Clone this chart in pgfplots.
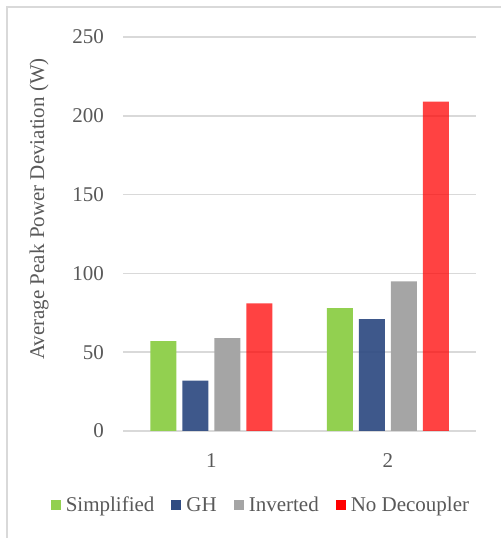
\documentclass[border=0pt]{standalone}
\usepackage{fontspec}
\setmainfont{Liberation Serif}
\usepackage{pgfplots}
\pgfplotsset{compat=1.18}

\definecolor{txtgray}{HTML}{595959}
\definecolor{gridgray}{HTML}{D9D9D9}
\definecolor{framegray}{HTML}{D9D9D9}
\definecolor{cSimp}{HTML}{92D050}
\definecolor{cGH}{HTML}{2F4B82}
\definecolor{cInv}{HTML}{A5A5A5}
\definecolor{cNoDec}{HTML}{FF0000}

\begin{document}
\begin{tikzpicture}[x=1pt,y=1pt]
  \path[use as bounding box] (0,0) rectangle (501,538);
  % chart frame (left and top edges)
  \draw[framegray, line width=1.3pt] (7,0) -- (7,531) -- (501,531);

  \begin{axis}[
    at={(123pt,107pt)}, anchor=south west,
    scale only axis, width=353pt, height=394pt,
    font=\fontsize{21}{25}\selectfont,
    /pgf/number format/assume math mode=true,
    ybar=6pt, bar width=26pt,
    xmin=0.5, xmax=2.5, ymin=0, ymax=250,
    xtick={1,2}, xticklabels={1,2},
    ytick={0,50,100,150,200,250},
    axis line style={draw=none},
    major tick length=0pt,
    ymajorgrids, grid style={gridgray, line width=1.5pt},
    tick label style={text=txtgray, inner sep=0pt},
    yticklabel style={anchor=east, xshift=-19pt},
    xticklabel style={anchor=north, yshift=-22pt},
    legend columns=4,
    legend style={
      at={(0.388,-0.188)}, anchor=center,
      draw=none, fill=none, text=txtgray,
      font=\fontsize{21}{25}\selectfont,
      inner sep=0pt,
      nodes={inner sep=0pt},
      /tikz/every even column/.append style={column sep=17pt},
    },
    legend image code/.code={
      \fill[#1, fill opacity=1] (0pt,-5pt) rectangle (10pt,5pt);
      \path (15pt,0pt);
    },
  ]
    \addplot[draw=none, fill=cSimp] coordinates {(1,57) (2,78)};
    \addlegendentry{Simplified}
    \addplot[draw=none, fill=cGH, fill opacity=0.93] coordinates {(1,32) (2,71)};
    \addlegendentry{GH}
    \addplot[draw=none, fill=cInv] coordinates {(1,59) (2,95)};
    \addlegendentry{Inverted}
    \addplot[draw=none, fill=cNoDec, fill opacity=0.74] coordinates {(1,81) (2,209)};
    \addlegendentry{No Decoupler}
  \end{axis}

  \node[rotate=90, text=txtgray, font=\fontsize{21}{25}\selectfont, inner sep=0pt]
    at (39,329) {Average Peak Power Deviation (W)};
\end{tikzpicture}
\end{document}
